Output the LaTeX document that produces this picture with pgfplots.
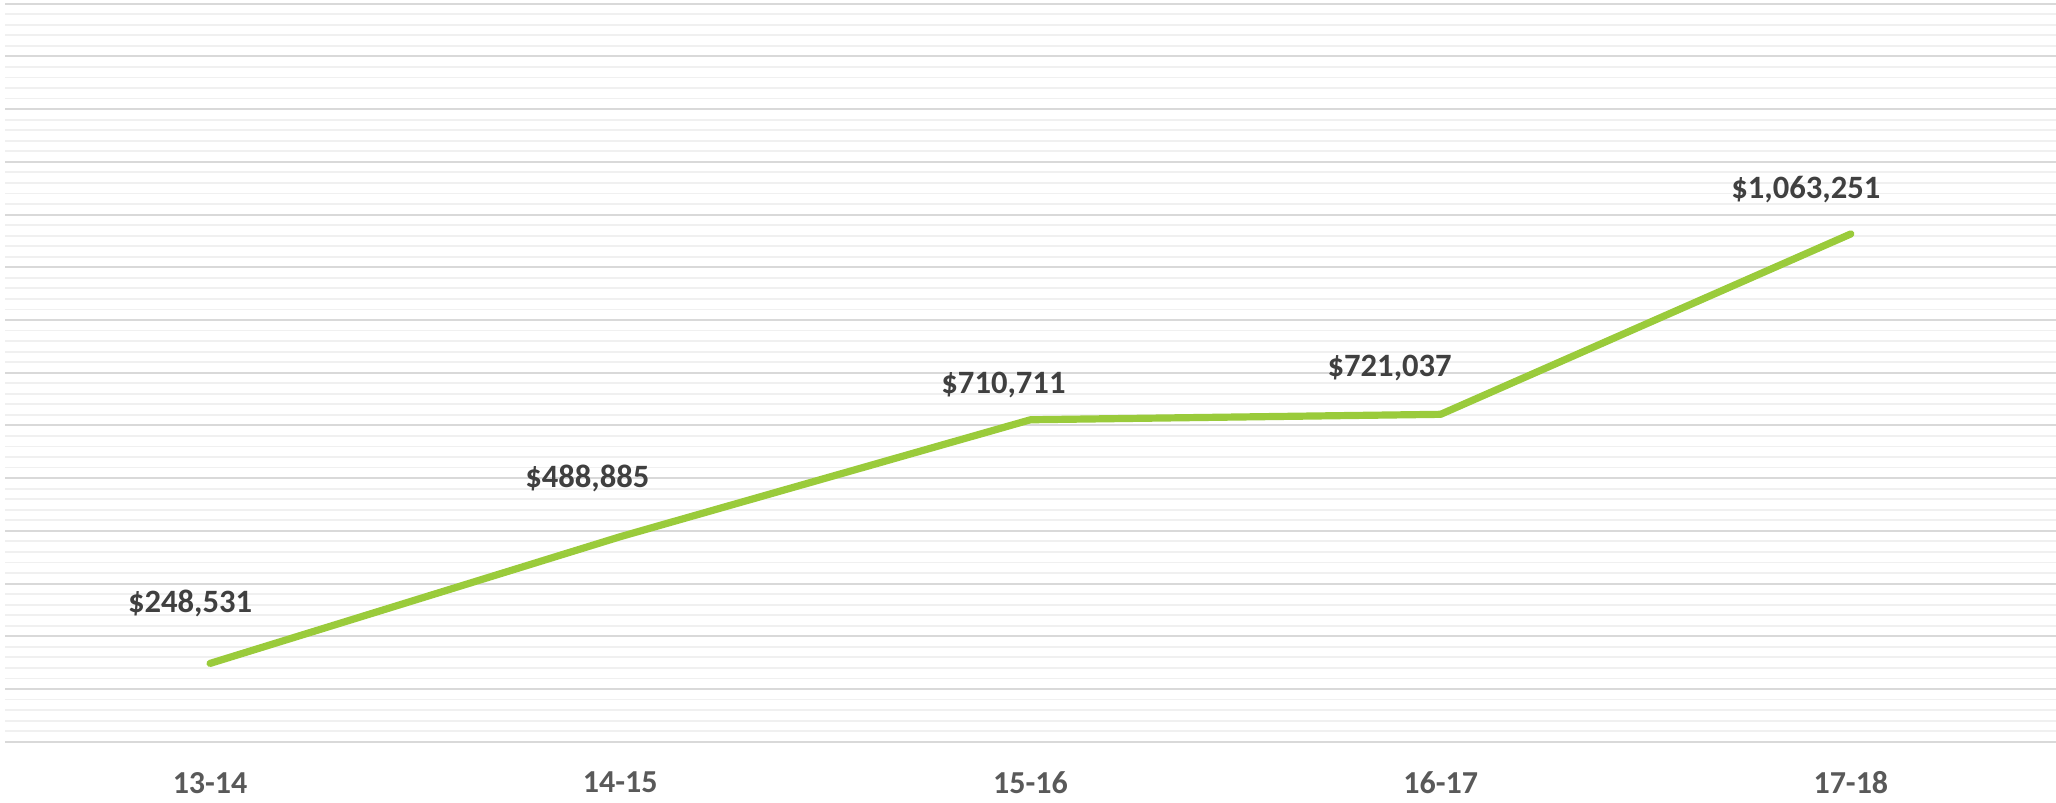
\documentclass[border=0pt]{standalone}
\usepackage{pgfplots}
\pgfplotsset{compat=1.18}
\usepackage{pgfplotstable}
\usepackage{fontspec}
\setmainfont{Carlito}
\definecolor{linegreen}{RGB}{154,203,59}
\definecolor{majgrid}{RGB}{217,217,217}
\definecolor{mingrid}{RGB}{240,240,240}
\definecolor{ticktext}{RGB}{89,89,89}
\definecolor{labeltext}{RGB}{64,64,64}
\pgfplotstableread{
x y dx dy label
0 248531 -10 30 \$248,531
1 488885 -16.5 29 \$488,885
2 710711 -13.5 17.5 \$710,711
3 721037 -25.5 23.3 \$721,037
4 1063251 -22.5 22 \$1,063,251
}\datatable
\begin{document}
\begin{tikzpicture}
\useasboundingbox (-2.5pt,-30.65pt) rectangle (1025.5pt,370.85pt);
\begin{axis}[
  at={(0,0)}, anchor=south west,
  scale only axis,
  width=1025.5pt, height=369pt,
  xmin=-0.5, xmax=4.5,
  ymin=100000, ymax=1500000,
  xtick={0,1,2,3,4},
  xticklabels={13-14,14-15,15-16,16-17,17-18},
  ytick={100000,200000,...,1500000},
  yticklabel=\empty,
  minor y tick num=4,
  ymajorgrids, yminorgrids,
  major grid style={draw=majgrid, line width=1pt},
  minor grid style={draw=mingrid, line width=0.9pt},
  axis line style={draw=none},
  major tick length=0pt, minor tick length=0pt,
  xticklabel style={font=\fontsize{16}{19}\selectfont\bfseries, text=ticktext, anchor=center, yshift=-20.5pt},
  clip=false,
]
\addplot[color=linegreen, line width=3.6pt, line cap=round, line join=round,
  nodes near coords,
  point meta=explicit symbolic,
  visualization depends on={\thisrow{dx} \as \dx},
  visualization depends on={\thisrow{dy} \as \dy},
  every node near coord/.append style={anchor=center, xshift=\dx pt, yshift=\dy pt,
    font=\fontsize{16.3}{19}\selectfont\bfseries, text=labeltext, inner sep=0pt},
] table[x=x, y=y, meta=label] {\datatable};
\end{axis}
\end{tikzpicture}
\end{document}
